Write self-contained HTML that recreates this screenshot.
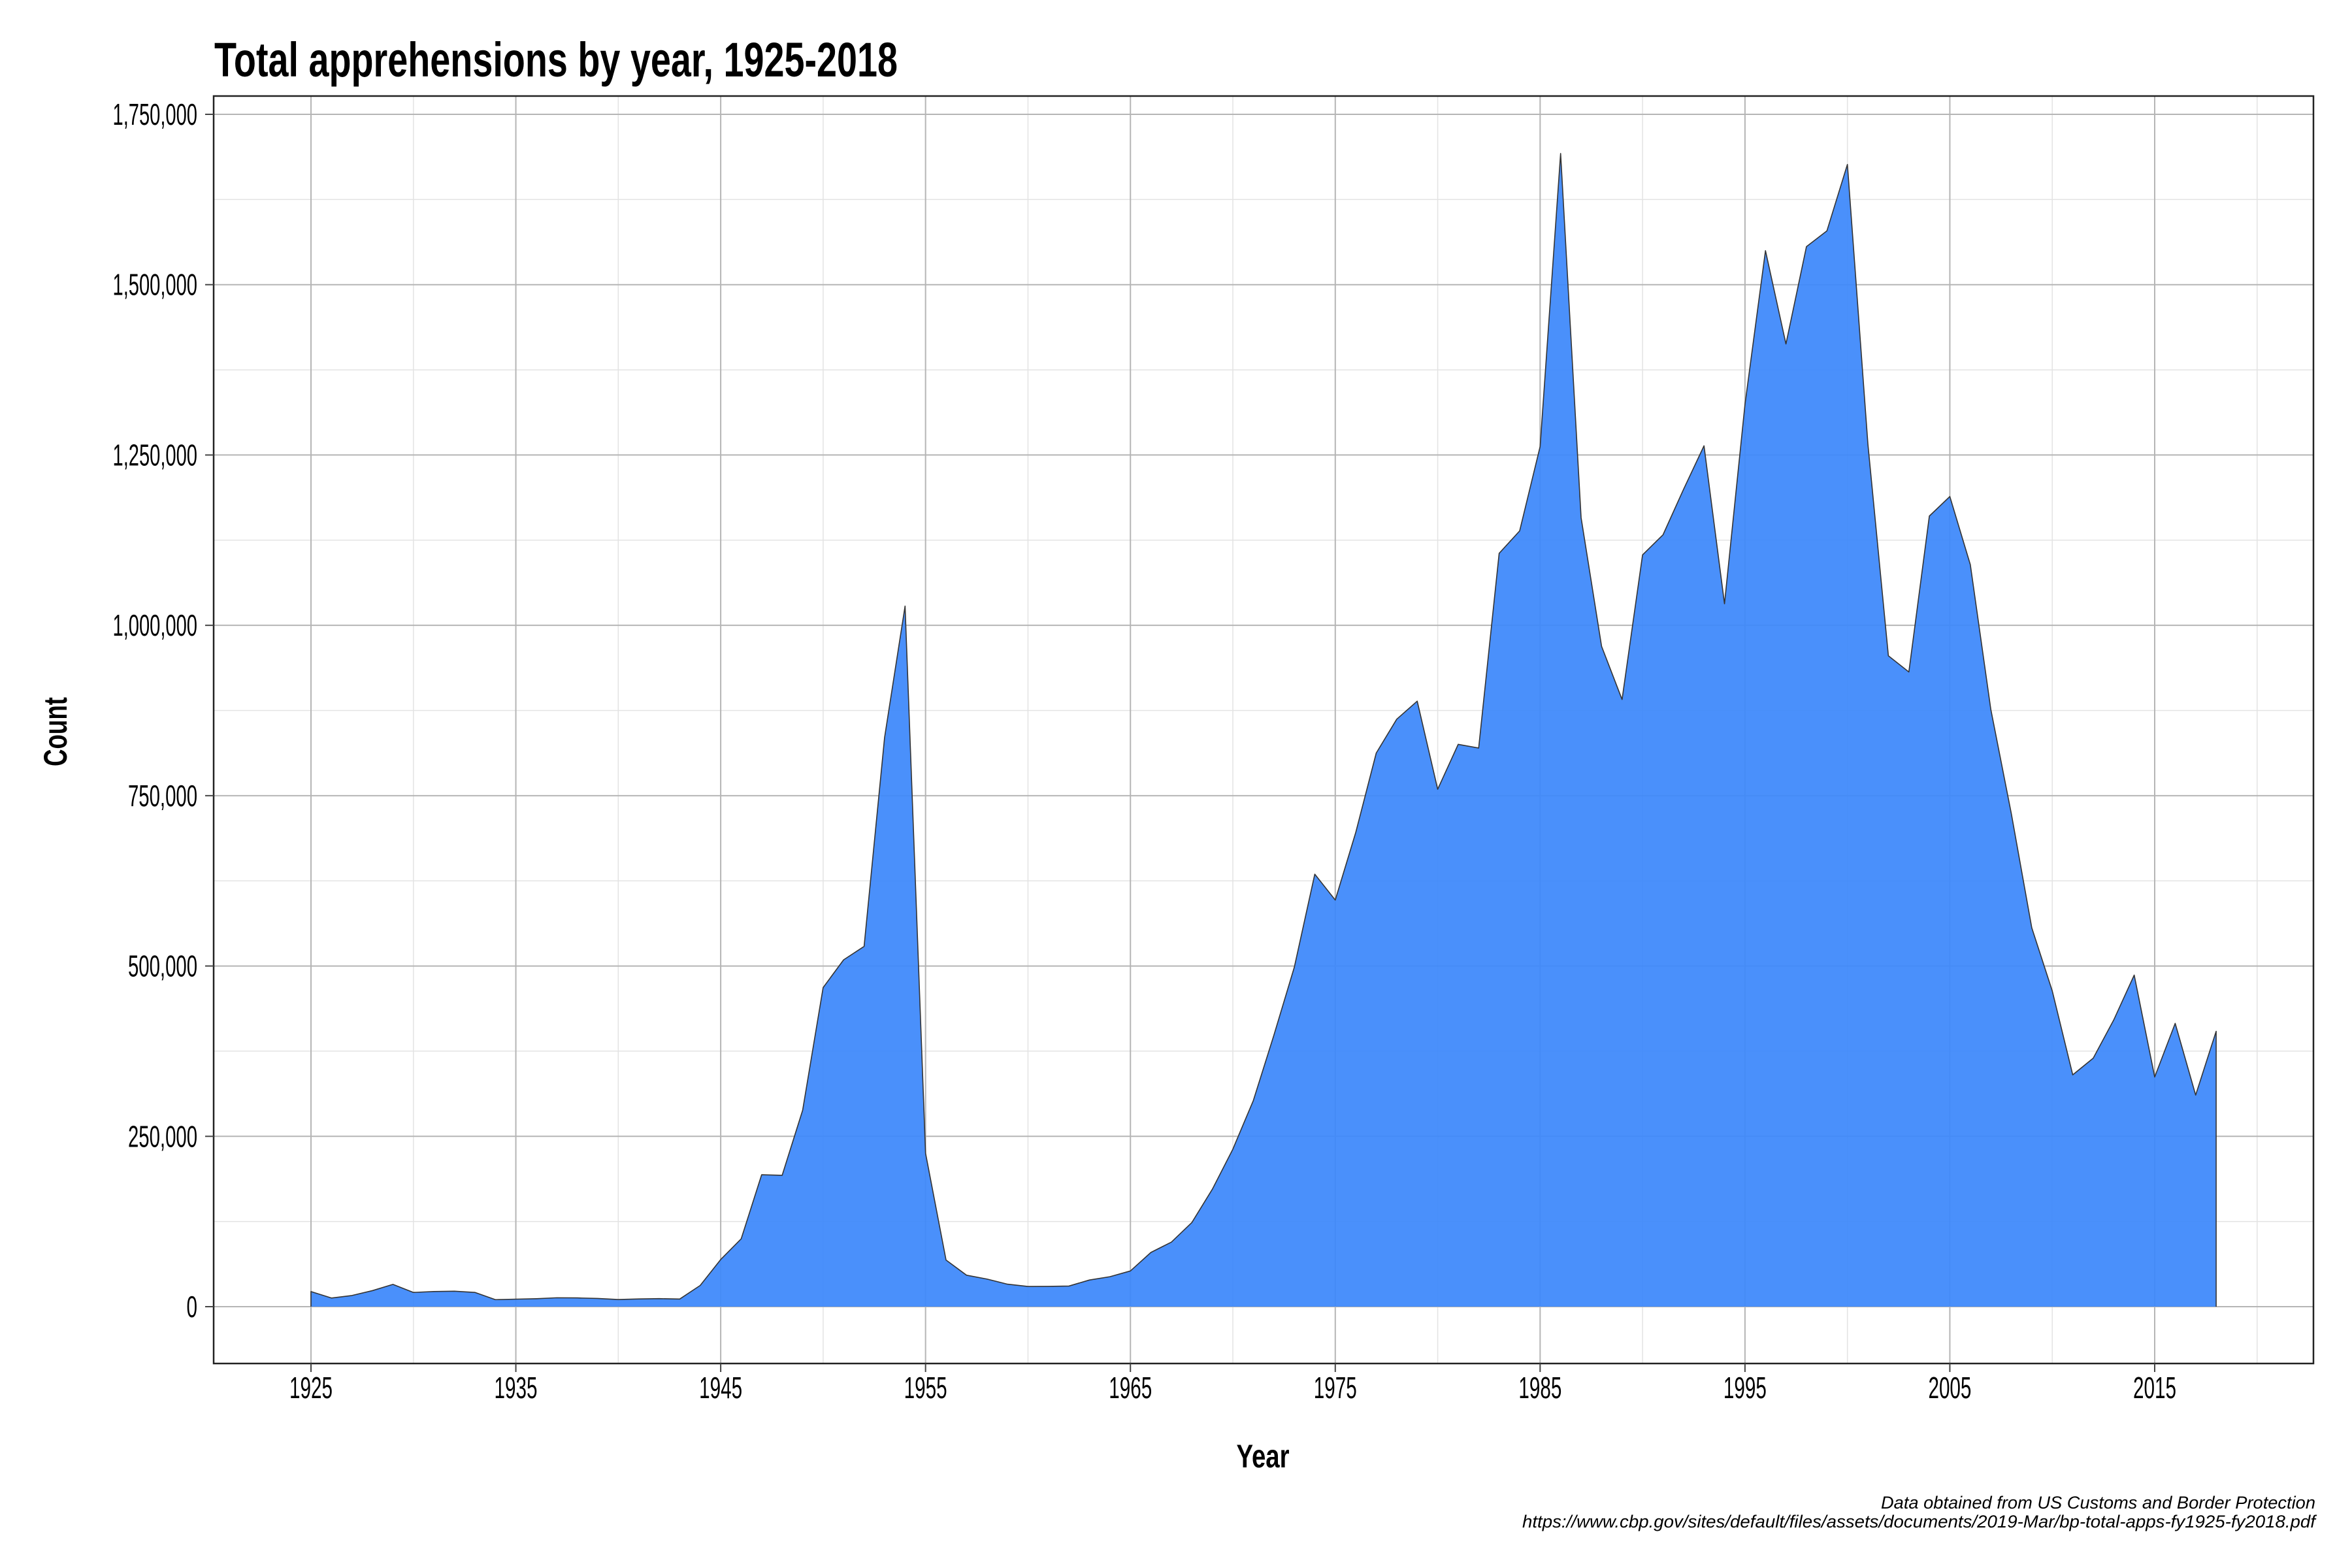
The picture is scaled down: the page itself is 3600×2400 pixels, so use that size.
<!DOCTYPE html>
<html><head><meta charset="utf-8">
<style>
html,body{margin:0;padding:0;background:#fff;}
svg{display:block;}
text{font-family:"Liberation Sans Narrow","Liberation Sans",sans-serif;}
</style></head>
<body>
<svg id="chart" width="3600" height="2400" viewBox="0 0 3600 2400" xmlns="http://www.w3.org/2000/svg">
<rect width="3600" height="2400" fill="#fff"/>
<text x="328" y="117" font-size="74" font-weight="bold" textLength="1046" lengthAdjust="spacingAndGlyphs">Total apprehensions by year, 1925-2018</text>
<g id="grid"></g>
<g id="area"></g>
<g id="axes"></g>
<text x="1933" y="2246" font-size="50" font-weight="bold" text-anchor="middle" textLength="81" lengthAdjust="spacingAndGlyphs">Year</text>
<text transform="translate(102,1120) rotate(-90)" font-size="50" font-weight="bold" text-anchor="middle" textLength="106" lengthAdjust="spacingAndGlyphs">Count</text>
<text x="3544" y="2309" font-size="27" font-style="italic" text-anchor="end" style="font-family:'Liberation Sans',sans-serif" textLength="665" lengthAdjust="spacingAndGlyphs">Data obtained from US Customs and Border Protection</text>
<text x="3544" y="2338" font-size="27" font-style="italic" text-anchor="end" style="font-family:'Liberation Sans',sans-serif" textLength="1214" lengthAdjust="spacingAndGlyphs">https://www.cbp.gov/sites/default/files/assets/documents/2019-Mar/bp-total-apps-fy1925-fy2018.pdf</text>
</svg>
<script>
const years = [];
for (let y = 1925; y <= 2018; y++) years.push(y);
const counts = [22199,12735,16393,23566,32711,20880,22276,22735,20949,10319,11016,11728,13054,12851,12037,10492,11294,11784,11175,31174,69164,99591,193657,192779,288253,468339,509040,528815,835311,1028246,225186,68420,46225,40504,32996,29651,29817,30272,39124,43993,52422,79610,94778,123519,172391,231116,302517,398098,498123,634777,596796,696039,812541,862217,888729,759420,825290,819919,1105670,1138566,1262435,1692544,1158030,969214,891147,1103353,1132933,1199560,1263490,1031668,1324202,1549876,1412953,1555776,1579010,1676438,1266214,955310,931557,1160395,1189075,1089092,876704,723825,556041,463382,340252,364768,420789,486651,337117,415816,310531,404142];
const xTicks = [1925,1935,1945,1955,1965,1975,1985,1995,2005,2015];
const xMinor = [1930,1940,1950,1960,1970,1980,1990,2000,2010,2020];
const yTicks = [0,250000,500000,750000,1000000,1250000,1500000,1750000];
const yMinor = [125000,375000,625000,875000,1125000,1375000,1625000];
const yTickLabels = ["0","250,000","500,000","750,000","1,000,000","1,250,000","1,500,000","1,750,000"];

const PL=327, PR=3541, PT=147, PB=2087;
const X0=1925, X1=2015, XP0=476, XP1=3298;
const x = v => XP0 + (v - X0) * (XP1 - XP0) / (X1 - X0);
const Y0PX=2000, Y175PX=175;
const y = v => Y0PX + v * (Y175PX - Y0PX) / 1750000;
const NS='http://www.w3.org/2000/svg';
function mk(tag, attrs, parent){const e=document.createElementNS(NS,tag);for(const k in attrs)e.setAttribute(k,attrs[k]);parent.appendChild(e);return e;}
function labelLen(s){let n=0;for(const c of s){n+=(c===',')?7:16.5;}return n;}
const grid=document.getElementById('grid'), area=document.getElementById('area'), axes=document.getElementById('axes');

xMinor.forEach(v=>{const l=mk('line',{x1:x(v),x2:x(v),y1:PT,y2:PB,stroke:'#e3e3e3','stroke-width':1.5},grid);

});
yMinor.forEach(v=>{const l=mk('line',{x1:PL,x2:PR,y1:y(v),y2:y(v),stroke:'#e3e3e3','stroke-width':1.5},grid);

});
xTicks.forEach(v=>{const l=mk('line',{x1:x(v),x2:x(v),y1:PT,y2:PB,stroke:'#b5b5b5','stroke-width':2},grid);

});
yTicks.forEach(v=>{const l=mk('line',{x1:PL,x2:PR,y1:y(v),y2:y(v),stroke:'#b5b5b5','stroke-width':2},grid);

});

let d='M'+x(years[0])+','+y(0);
years.forEach((yr,i)=>{d+=' L'+x(yr)+','+y(counts[i]);});
d+=' L'+x(years[years.length-1])+','+y(0)+' Z';
const p=mk('path',{d:d,fill:'#3c88fb','fill-opacity':0.93,stroke:'none'},area);


let d2='M'+x(years[0])+','+y(0);
years.forEach((yr,i)=>{d2+=' L'+x(yr)+','+y(counts[i]);});
d2+=' L'+x(years[years.length-1])+','+y(0);
const ol=mk('path',{d:d2,fill:'none',stroke:'#333','stroke-width':1.6,'stroke-linejoin':'round'},area);



const border=mk('rect',{x:PL,y:PT,width:PR-PL,height:PB-PT,fill:'none',stroke:'#222','stroke-width':2.5},axes);


xTicks.forEach(v=>{
  const t=mk('line',{x1:x(v),x2:x(v),y1:PB,y2:PB+13,stroke:'#444','stroke-width':2},axes);
  
  
  const s=String(v);
  const tx=mk('text',{x:x(v),y:2140,'font-size':46,'text-anchor':'middle',fill:'#000',textLength:labelLen(s),lengthAdjust:'spacingAndGlyphs'},axes);
  tx.textContent=s;
  
  
});
yTicks.forEach((v,i)=>{
  const t=mk('line',{x1:PL-13,x2:PL,y1:y(v),y2:y(v),stroke:'#444','stroke-width':2},axes);
  
  
  const s=yTickLabels[i];
  const tx=mk('text',{x:302,y:y(v)+16,'font-size':46,'text-anchor':'end',fill:'#000',textLength:labelLen(s),lengthAdjust:'spacingAndGlyphs'},axes);
  tx.textContent=s;
  
  
});
</script>
</body></html>
